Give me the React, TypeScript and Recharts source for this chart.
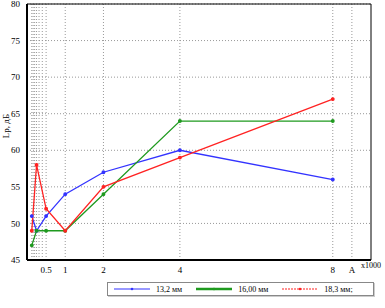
import { CartesianGrid, Label, Legend, Line, LineChart, ReferenceLine, XAxis, YAxis } from 'recharts';

// f, kHz
const freqs = [0.125, 0.25, 0.5, 1, 2, 4, 8];
const s132 = [51, 49, 51, 54, 57, 60, 56];
const s160 = [47, 49, 49, 49, 54, 64, 64];
const s183 = [49, 58, 52, 49, 55, 59, 67];

const xTicks = [0.5, 1, 2, 4, 8, 8.5];
const gridF = [0.125, 0.16, 0.2, 0.25, 0.315, 0.4, 0.5, 1, 2, 4, 8, 8.5];
const yTicks = [45, 50, 55, 60, 65, 70, 75, 80];

const names = ['13,2 мм', '16,00 мм', '18,3 мм;'];
const colors = ['#3333ff', '#1f9a1f', '#ff2222'];

const data = freqs.map((f, i) => ({ f, a: s132[i], b: s160[i], c: s183[i] }));

const font = 'Liberation Serif, DejaVu Serif, serif';

function MyLegend() {
  return (
    <div style={{ display: 'flex', alignItems: 'center', border: '1px solid #888', boxShadow: '1px 1px 0 #ccc', height: 12, padding: '0 6px', fontFamily: font, fontSize: 8, color: '#000', background: '#fff' }}>
      {names.map((n, i) => (
        <div key={n} style={{ display: 'flex', alignItems: 'center', marginRight: 14 }}>
          <svg width={36} height={6} style={{ marginRight: 6 }}>
            <line x1={0} y1={3} x2={36} y2={3} stroke={colors[i]} strokeWidth={i === 1 ? 2.5 : 1.2} strokeDasharray={i === 2 ? '2 1' : undefined} />
            <circle cx={18} cy={3} r={1.3} fill={colors[i]} />
          </svg>
          <span>{n}</span>
        </div>
      ))}
    </div>
  );
}

export default function App() {
  return (
    <div style={{ position: 'absolute', left: 0, top: 0, width: 385, height: 308, background: '#fff', color: '#000' }}>
      <LineChart width={385} height={308} data={data} margin={{ top: 4, right: 14, left: 0, bottom: 30 }}>
        <CartesianGrid stroke="#999" strokeDasharray="1 2" verticalValues={gridF} horizontalValues={yTicks} />
        <XAxis
          dataKey="f"
          type="number"
          domain={[0, 9]}
          ticks={xTicks}
          tickFormatter={(v: number) => (v === 8.5 ? 'A' : String(v))}
          axisLine={false}
          tickLine={false}
          tick={{ fontSize: 9, fill: '#000', fontFamily: font }}
          tickMargin={1}
          height={18}
          interval={0}
        >
          <Label value="f, Гц" position="insideBottom" offset={-12} style={{ fontSize: 9, fill: '#000', fontFamily: font }} />
        </XAxis>
        <YAxis
          type="number"
          domain={[45, 80]}
          ticks={yTicks}
          width={27}
          axisLine={false}
          tickLine={false}
          tick={{ fontSize: 9, fill: '#000', fontFamily: font }}
          tickMargin={1}
          interval={0}
        >
          <Label value="Lp, дБ" angle={-90} position="insideLeft" offset={6} dy={-6} style={{ fontSize: 9, fill: '#000', fontFamily: font, textAnchor: 'middle' }} />
        </YAxis>
        <ReferenceLine y={80} stroke="#000" />
        <ReferenceLine x={9} stroke="#000" />
        <ReferenceLine y={45} stroke="#000" strokeWidth={2} />
        <ReferenceLine x={0} stroke="#000" strokeWidth={2} />
        <Line dataKey="a" name={names[0]} stroke={colors[0]} strokeWidth={1.3} dot={{ r: 1.3, fill: colors[0], stroke: colors[0] }} isAnimationActive={false} />
        <Line dataKey="b" name={names[1]} stroke={colors[1]} strokeWidth={1.3} dot={{ r: 1.3, fill: colors[1], stroke: colors[1] }} isAnimationActive={false} />
        <Line dataKey="c" name={names[2]} stroke={colors[2]} strokeWidth={1.3} dot={{ r: 1.3, fill: colors[2], stroke: colors[2] }} isAnimationActive={false} />
        <Legend layout="horizontal" verticalAlign="middle" align="center" content={<MyLegend />} wrapperStyle={{ position: 'absolute', left: 107, top: 282, width: 'auto' }} />
      </LineChart>
      <div style={{ position: 'absolute', left: 361, top: 261, fontFamily: font, fontSize: 8, color: '#000', zIndex: 5 }}>x1000</div>
    </div>
  );
}
